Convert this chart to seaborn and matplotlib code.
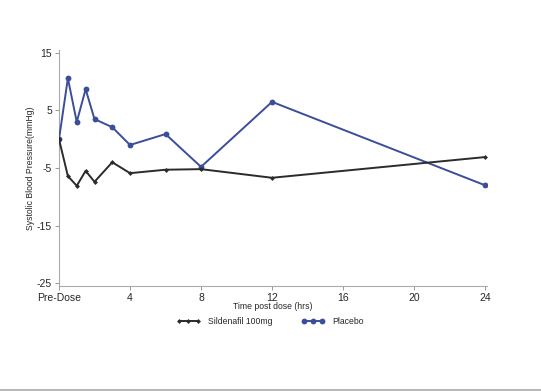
import pandas as pd
import matplotlib
matplotlib.use("Agg")
import matplotlib.pyplot as plt
import seaborn as sns

# Data
hours = [0, 0.5, 1, 1.5, 2, 3, 4, 6, 8, 12, 24]
sildenafil = [0, -6.4, -8.1, -5.5, -7.4, -4.0, -5.9, -5.3, -5.2, -6.7, -3.1]
placebo = [0, 10.6, 3.0, 8.7, 3.5, 2.1, -1.0, 0.9, -4.8, 6.5, -8.0]
x_ticks = [0, 4, 8, 12, 16, 20, 24]
x_labels = ["Pre-Dose", "4", "8", "12", "16", "20", "24"]
y_ticks = [15, 5, -5, -15, -25]

df = pd.DataFrame({
    "Time": hours * 2,
    "BP": sildenafil + placebo,
    "Group": ["Sildenafil 100mg"] * len(hours) + ["Placebo"] * len(hours),
})

sns.set_style("white")
plt.rcParams["font.family"] = ["Liberation Sans", "DejaVu Sans"]
plt.rcParams["axes.unicode_minus"] = False

colors = {"Sildenafil 100mg": "#2b2b2b", "Placebo": "#3b4d9b"}
markers = {"Sildenafil 100mg": "D", "Placebo": "o"}
sizes = {"Sildenafil 100mg": 2.5, "Placebo": 4.2}
zorders = {"Sildenafil 100mg": 4, "Placebo": 3}

fig = plt.figure(figsize=(5.41, 3.91), dpi=100)
ax = fig.add_axes([59 / 541, 1 - 286 / 391, 428 / 541, 236 / 391])

for grp in ["Sildenafil 100mg", "Placebo"]:
    sub = df[df["Group"] == grp]
    sns.lineplot(data=sub, x="Time", y="BP", ax=ax, color=colors[grp],
                 marker=markers[grp], markersize=sizes[grp], linewidth=1.4,
                 markeredgewidth=0, label=grp, legend=False, zorder=zorders[grp])

ax.set_xlim(0, 24.11)
ax.set_ylim(-25.52, 15.52)
ax.set_xticks(x_ticks)
ax.set_xticklabels(x_labels)
ax.set_yticks(y_ticks)
ax.tick_params(axis="both", labelsize=7.5, length=3, width=0.6,
               color="#888888", direction="out", bottom=True, left=True, pad=2)
for side in ["top", "right"]:
    ax.spines[side].set_visible(False)
for side in ["left", "bottom"]:
    ax.spines[side].set_color("#aaaaaa")
    ax.spines[side].set_linewidth(0.8)

ax.set_xlabel("Time post dose (hrs)", fontsize=6.2)
ax.set_ylabel("Systolic Blood Pressure(mmHg)", fontsize=6.2)
ax.yaxis.set_label_coords(-0.056, 0.5)
ax.xaxis.set_label_coords(0.5, -0.068)

handles, labels = ax.get_legend_handles_labels()
fig.legend(handles, labels, loc="center", bbox_to_anchor=(0.5, 1 - 322 / 391),
           ncol=2, frameon=False, fontsize=6.2, numpoints=3, handlelength=2.7,
           columnspacing=3.4, handletextpad=0.9)

# bottom border line of the image
fig.add_artist(plt.Line2D([0, 1], [1 - 389.5 / 391] * 2, color="#aaaaaa",
                          linewidth=1.2, transform=fig.transFigure))

fig.savefig("out.png", dpi=100)
